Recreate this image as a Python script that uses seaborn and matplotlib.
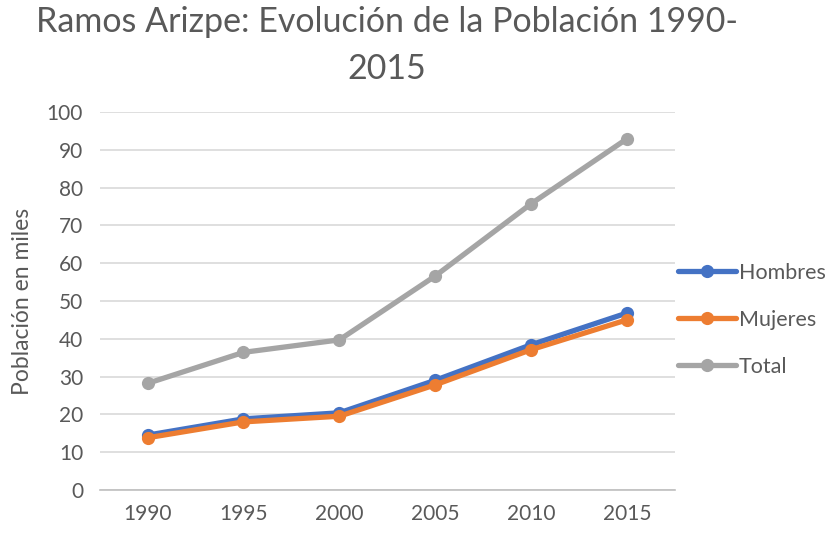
import matplotlib
matplotlib.use("Agg")
import matplotlib.pyplot as plt
import seaborn as sns
import pandas as pd

years = ["1990", "1995", "2000", "2005", "2010", "2015"]
hombres = [14.5, 18.8, 20.4, 29.0, 38.4, 46.8]
mujeres = [13.8, 18.0, 19.5, 27.8, 37.1, 45.0]
total = [28.2, 36.4, 39.7, 56.6, 75.7, 92.9]

series_names = ["Hombres", "Mujeres", "Total"]
colors = ["#4472C4", "#ED7D31", "#A5A5A5"]

df = pd.DataFrame({
    "Año": years * 3,
    "Población": hombres + mujeres + total,
    "Serie": [n for n in series_names for _ in years],
})

sns.set_theme(style="white")
plt.rcParams["font.family"] = ["Lato", "DejaVu Sans"]

fig = plt.figure(figsize=(8.31, 5.36), dpi=100)
ax = fig.add_axes([0.120, 0.086, 0.692, 0.705])

sns.lineplot(data=df, x="Año", y="Población", hue="Serie", hue_order=series_names,
             palette=colors, marker="o", markersize=9.5, linewidth=3.8,
             markeredgewidth=0, sort=False, ax=ax, legend=True)

ax.set_ylim(0, 100)
ax.set_xlim(-0.5, 5.5)
ax.set_yticks(range(0, 101, 10))
ax.yaxis.grid(True, color="#D9D9D9", linewidth=1.2)
ax.set_axisbelow(True)
for s in ["top", "right", "left"]:
    ax.spines[s].set_visible(False)
ax.spines["bottom"].set_color("#BFBFBF")
ax.spines["bottom"].set_linewidth(1.2)
ax.tick_params(axis="y", length=0, labelsize=15, colors="#595959", pad=12)
ax.tick_params(axis="x", length=0, labelsize=15, colors="#595959", pad=10)
ax.set_xlabel("")
ax.set_ylabel("Población en miles", fontsize=16.5, color="#595959", labelpad=10)

ax.set_title("Ramos Arizpe: Evolución de la Población 1990-\n2015",
             fontsize=24.5, color="#595959", pad=24, linespacing=1.55, x=0.5)

leg = ax.legend(loc="center left", bbox_to_anchor=(0.99, 0.45), frameon=False,
                fontsize=15.5, handlelength=2.7, handletextpad=0.15,
                labelspacing=1.25, borderaxespad=0)
for t in leg.get_texts():
    t.set_color("#595959")

fig.savefig("out.png", dpi=100, facecolor="white")
